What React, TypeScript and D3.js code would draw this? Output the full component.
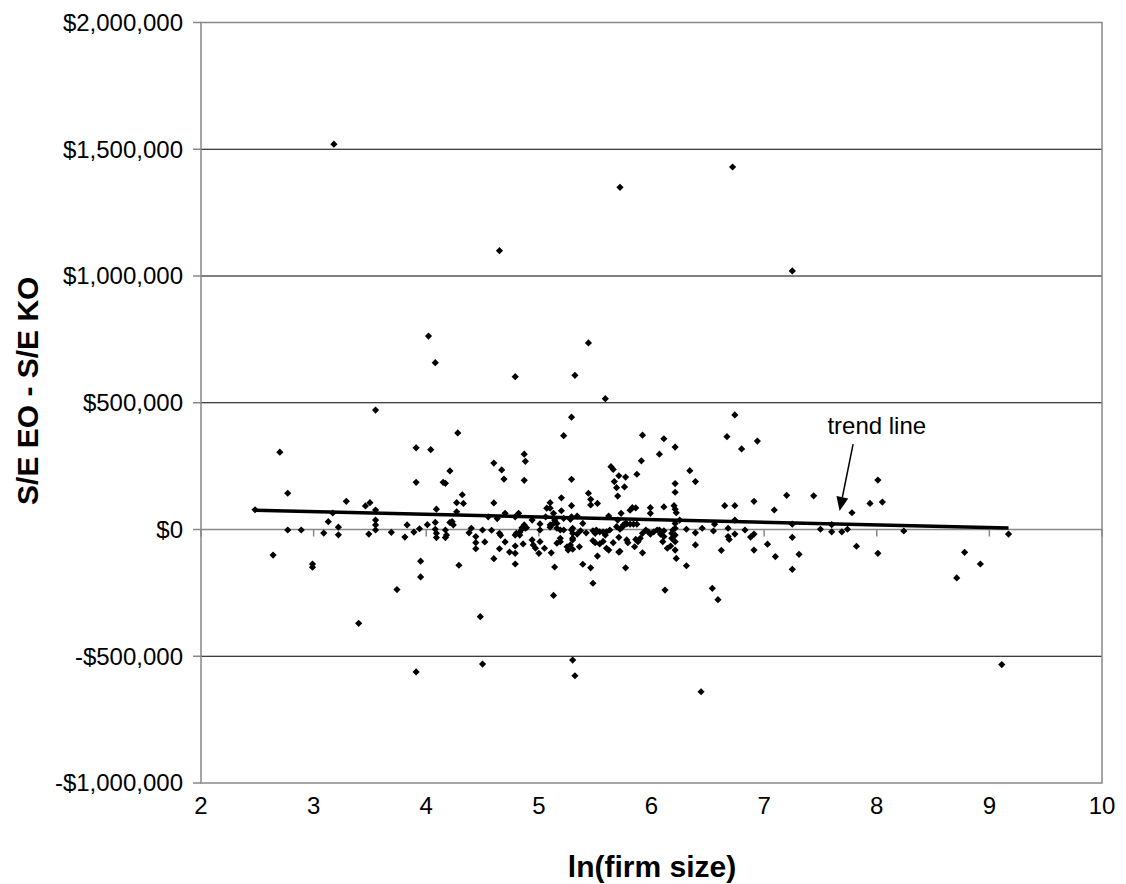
import { scaleLinear, format, line } from 'd3';

const width = 1126;
const height = 884;

// ln(firm size) vs S/E EO - S/E KO (in $ thousands)
const firms: [number, number][] = [
  [3.18, 1520], [4.65, 1100], [5.72, 1350], [6.72, 1430], [7.25, 1020], [4.02, 763], [5.44, 736],
  [4.08, 658], [3.55, 471], [2.70, 305], [3.91, 322], [4.04, 315], [2.77, 143], [3.91, 186], [4.15, 186],
  [4.17, 182], [4.21, 231], [3.29, 111], [3.46, 93], [3.50, 106], [2.48, 78], [3.17, 65], [3.55, 77],
  [4.09, 80], [3.13, 31], [3.22, 9], [3.22, -21], [3.55, 37], [3.55, 18], [3.55, -2], [2.77, -2],
  [2.89, -2], [3.09, -14], [3.49, -18], [3.69, -11], [3.83, 18], [3.81, -30], [3.89, -10], [3.94, 3],
  [4.01, 19], [4.08, 28], [4.08, 1], [4.09, -15], [4.09, -32], [4.17, -2], [4.17, -32], [4.21, 28],
  [2.64, -101], [2.99, -136], [2.99, -149], [3.95, -125], [3.95, -187], [3.74, -237], [3.40, -370], [3.91, -562],
  [4.79, 603], [5.32, 608], [5.59, 516], [5.29, 443], [4.28, 381], [5.22, 370], [5.92, 372], [6.11, 358],
  [6.21, 325], [6.07, 297], [4.87, 297], [4.88, 269], [4.60, 262], [4.67, 235], [4.69, 199], [4.87, 194],
  [5.29, 198], [5.91, 271], [5.64, 248], [5.66, 237], [5.71, 212], [5.77, 207], [5.67, 189], [5.69, 165],
  [5.76, 168], [5.70, 132], [5.87, 218], [6.21, 181], [6.21, 147], [4.32, 137], [4.27, 106], [4.33, 103],
  [4.27, 70], [4.60, 105], [5.44, 143], [5.46, 119], [5.46, 97], [5.52, 103], [5.20, 125], [5.29, 94],
  [5.10, 106], [5.07, 84], [5.81, 76], [5.83, 86], [5.86, 85], [5.99, 86], [5.99, 64], [6.11, 89],
  [6.20, 94], [6.21, 80], [4.70, 64], [4.82, 64], [4.79, 50], [4.55, 50], [4.63, 43], [4.24, 18],
  [4.38, -13], [4.40, 5], [4.44, -28], [4.44, -52], [4.44, -76], [4.50, -2], [4.52, -49], [4.58, -3],
  [4.65, -15], [4.66, -23], [4.65, -76], [4.70, -49], [4.60, -115], [4.74, -89], [4.79, -94], [4.79, -65],
  [4.79, -136], [4.83, -22], [4.79, -22], [4.85, 7], [4.87, 18], [4.89, 7],
  [4.48, -344], [4.50, -531], [5.13, -260], [5.30, -515], [5.32, -577], [5.48, -212], [6.12, -239], [4.29, -141],
  [5.14, -148], [5.39, -137], [5.46, -151], [5.77, -151], [6.31, -143], [6.22, -114], [5.52, -105], [5.11, -92],
  [5.71, -89], [5.92, -92],
  [6.74, 452], [6.67, 366], [6.94, 349], [6.80, 318], [6.34, 232], [6.39, 189], [7.20, 135], [7.44, 133],
  [8.01, 195], [8.05, 108], [7.94, 103], [7.78, 66], [7.09, 77], [6.91, 111], [6.65, 94], [6.74, 94],
  [6.74, 37], [6.25, 37], [6.31, 1], [6.39, -13], [6.45, 5], [6.55, -6], [6.56, 21], [6.68, 5],
  [6.68, -28], [6.69, -39], [6.74, -18], [6.83, -2], [6.88, -30], [6.91, -18], [7.25, 21], [7.25, -31],
  [7.50, 1], [7.60, 19], [7.60, -9], [7.69, -9], [7.74, 1], [7.03, -58], [7.10, -107], [7.31, -98],
  [6.91, -81], [6.62, -82], [6.39, -61], [8.01, -94], [8.24, -6],
  [9.17, -18], [8.78, -90], [8.71, -191], [8.92, -136], [9.11, -533], [6.54, -232], [6.59, -277], [6.44, -640],
  [7.25, -157], [7.82, -66],
  [4.23, 31], [4.18, -22], [4.80, -15], [4.83, -11], [4.85, 1], [4.88, 5], [4.86, -57], [4.94, 37],
  [4.94, -41], [4.95, -61], [4.97, -74], [5.00, -94], [5.01, -48], [5.01, -2], [5.01, 22], [5.05, -74],
  [5.06, 50], [5.10, 84], [5.10, 18], [5.10, 9], [5.13, 64], [5.13, 24], [5.14, 37], [5.16, 24],
  [5.16, 5], [5.19, -2], [5.22, -2], [5.19, -35], [5.19, -48], [5.16, -54], [5.20, 74], [5.22, 44],
  [5.25, -68], [5.26, -81], [5.28, -61], [5.29, -2], [5.30, -35], [5.29, 50], [5.34, 53],
  [5.73, 64], [6.22, 66], [5.62, 53], [5.70, 37], [5.77, 24], [5.78, 22], [5.81, 21], [5.84, 21],
  [5.87, 21], [5.28, 40], [5.39, 24], [5.30, 5], [5.30, -15], [5.34, -18], [5.37, -5], [5.42, -13],
  [5.48, -5], [5.50, -15], [5.51, -2], [5.54, -9], [5.57, -9], [5.59, -22], [5.60, -9], [5.63, -2],
  [5.69, 11], [5.72, 1], [5.74, 9], [5.75, 18], [5.30, -41], [5.30, -78], [5.36, -68], [5.48, -44],
  [5.50, -52], [5.54, -57], [5.57, -47], [5.60, -74], [5.62, -81], [5.66, -52], [5.71, -31], [5.72, -86],
  [5.78, -41], [5.79, -52], [5.85, -68], [5.86, -39], [5.88, -48], [5.90, -35], [5.92, -15], [5.95, -2],
  [5.97, -9], [5.99, -18], [6.02, -9], [6.05, -2], [6.07, -2], [6.08, -18], [6.11, -5], [6.11, -28],
  [6.10, -48], [6.14, -74], [6.17, -65], [6.18, -15], [6.19, -2], [6.21, 24], [6.21, 5], [6.21, -22],
  [6.21, -48], [6.21, -81], [6.18, -35],
];

// trend line end points (x, $)
const trendX = [2.48, 9.17];
const trendY = [76000, 6000];

const xTicks = [2, 3, 4, 5, 6, 7, 8, 9, 10];
const yTicks = [-1000000, -500000, 0, 500000, 1000000, 1500000, 2000000];

// annotation: label position and arrow (data coords)
const noteText = 'trend line';
const noteAt = [8.0, 377000];
const arrowFrom = [7.79, 337000];
const arrowTo = [7.67, 73000];

const x = scaleLinear().domain([2, 10]).range([201, 1102]);
const y = scaleLinear().domain([-1000000, 2000000]).range([783, 22.5]);

const money = format('$,');
const fmtY = (v: number) => (v < 0 ? '-' + money(-v) : money(v));

const font = 'Arial, "Liberation Sans", sans-serif';

const App = () => {
  const r = 3.6;
  const diamond = `M0,${-r}L${r},0L0,${r}L${-r},0Z`;
  const trendPath = line<number>()
    .x((d, i) => x(trendX[i]))
    .y((d) => y(d))(trendY);

  // arrow head
  const ax1 = x(arrowFrom[0]), ay1 = y(arrowFrom[1]);
  const ax2 = x(arrowTo[0]), ay2 = y(arrowTo[1]);
  const ang = Math.atan2(ay2 - ay1, ax2 - ax1);
  const hl = 14, hw = 6;
  const bx = ax2 - hl * Math.cos(ang), by = ay2 - hl * Math.sin(ang);
  const head = `M${ax2},${ay2}L${bx + hw * Math.sin(ang)},${by - hw * Math.cos(ang)}L${bx - hw * Math.sin(ang)},${by + hw * Math.cos(ang)}Z`;

  return (
    <svg width={width} height={height} style={{ position: 'absolute', left: 0, top: 0, background: '#fff' }}>
      {/* gridlines */}
      {yTicks.filter((t) => t !== 0 && t !== -1000000 && t !== 2000000).map((t) => (
        <line key={t} x1={x(2)} x2={x(10)} y1={y(t)} y2={y(t)} stroke="#000" strokeWidth={1} />
      ))}
      {/* plot border */}
      <rect x={x(2)} y={y(2000000)} width={x(10) - x(2)} height={y(-1000000) - y(2000000)} fill="none" stroke="#888" strokeWidth={1.5} />
      {/* zero axis */}
      <line x1={x(2)} x2={x(10)} y1={y(0)} y2={y(0)} stroke="#888" strokeWidth={1.5} />
      {xTicks.map((t) => (
        <line key={t} x1={x(t)} x2={x(t)} y1={y(0)} y2={y(0) + 7} stroke="#888" strokeWidth={1.5} />
      ))}
      {/* y axis ticks and labels */}
      {yTicks.map((t) => (
        <g key={t}>
          <line x1={x(2) - 8} x2={x(2)} y1={y(t)} y2={y(t)} stroke="#888" strokeWidth={1.5} />
          <text x={x(2) - 18} y={y(t)} dy="0.35em" textAnchor="end" fontFamily={font} fontSize={24} fill="#000">
            {fmtY(t)}
          </text>
        </g>
      ))}
      {/* x labels */}
      {xTicks.map((t) => (
        <text key={t} x={x(t)} y={y(-1000000) + 23} dy="0.35em" textAnchor="middle" fontFamily={font} fontSize={24} fill="#000">
          {t}
        </text>
      ))}
      {/* points */}
      {firms.map((d, i) => (
        <path key={i} d={diamond} transform={`translate(${x(d[0])},${y(d[1] * 1000)})`} fill="#000" />
      ))}
      {/* trend line */}
      <path d={trendPath || ''} stroke="#000" strokeWidth={3.5} fill="none" />
      {/* annotation */}
      <text x={x(noteAt[0])} y={y(noteAt[1])} textAnchor="middle" fontFamily={font} fontSize={24} fill="#000">
        {noteText}
      </text>
      <line x1={ax1} y1={ay1} x2={bx} y2={by} stroke="#000" strokeWidth={1.5} />
      <path d={head} fill="#000" />
      {/* axis titles */}
      <text x={652} y={877} textAnchor="middle" fontFamily={font} fontSize={30} fontWeight="bold" fill="#000">
        ln(firm size)
      </text>
      <text
        transform={`translate(38,${(y(2000000) + y(-1000000)) / 2 - 12}) rotate(-90)`}
        textAnchor="middle"
        fontFamily={font}
        fontSize={30}
        fontWeight="bold"
        fill="#000"
      >
        S/E EO - S/E KO
      </text>
    </svg>
  );
};

export default App;
